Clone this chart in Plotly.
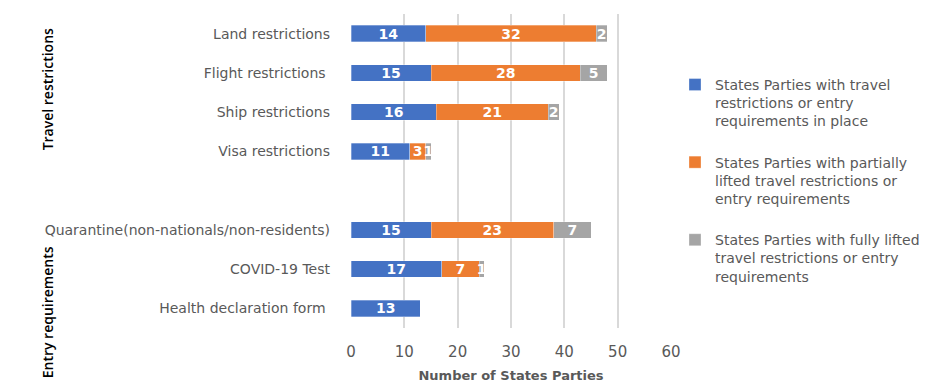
import plotly.graph_objects as go

categories = ["Land restrictions", "Flight restrictions ", "Ship restrictions", "Visa restrictions", " ",
              "Quarantine(non-nationals/non-residents)", "COVID-19 Test", "Health declaration form "]
in_place = [14, 15, 16, 11, None, 15, 17, 13]
partial = [32, 28, 21, 3, None, 23, 7, None]
fully = [2, 5, 2, 1, None, 7, 1, None]
series_names = [
    "States Parties with travel<br>restrictions or entry<br>requirements in place",
    "States Parties with partially<br>lifted travel restrictions or<br>entry requirements",
    "States Parties with fully lifted<br>travel restrictions or entry<br>requirements",
]
colors = ["#4472C4", "#ED7D31", "#A5A5A5"]
x_ticks = [0, 10, 20, 30, 40, 50, 60]

FONT = "DejaVu Sans"

fig = go.Figure()
for i, (vals, name, col) in enumerate(zip([in_place, partial, fully], series_names, colors)):
    fig.add_trace(go.Bar(
        y=categories, x=vals, orientation="h", name=name,
        marker=dict(color=col, line=dict(color="rgba(255,255,255,0.6)", width=0.5)),
        text=[("" if v is None else str(v)) for v in vals],
        textposition="inside", insidetextanchor="middle", textangle=0,
        textfont=dict(color="white", size=14, family=FONT, weight="bold"),
        legendgroup=f"g{i}",
        hoverinfo="skip",
    ))

fig.update_layout(
    barmode="stack",
    bargap=0.58,
    width=941, height=383,
    margin=dict(l=351, r=270, t=14, b=55),
    plot_bgcolor="white", paper_bgcolor="white",
    font=dict(family=FONT, color="#595959", size=14),
    uniformtext=dict(minsize=13, mode="show"),
    legend=dict(
        x=1.0125, y=0.825, xanchor="left", yanchor="top", valign="top",
        traceorder="grouped", tracegroupgap=20,
        font=dict(size=14, color="#595959", family=FONT),
        itemwidth=30,
    ),
    xaxis=dict(
        range=[0, 60], tickvals=x_ticks, showgrid=True, gridcolor="#D9D9D9", gridwidth=1.5,
        zeroline=False, showline=False, tickfont=dict(size=15, color="#595959"),
        title=dict(text="Number of States Parties", font=dict(size=13, color="#595959", weight="bold"), standoff=10),
        ticks="outside", ticklen=10, tickcolor="rgba(0,0,0,0)",
        automargin=False,
    ),
    yaxis=dict(
        categoryorder="array", categoryarray=categories[::-1], type="category",
        autorange=True, showgrid=False, showline=False, zeroline=False,
        tickfont=dict(size=14, color="#595959"), ticklabelstandoff=20,
        automargin=False,
    ),
    annotations=[
        dict(text="Travel restrictions", xref="paper", yref="paper", x=-0.95, y=0.76,
             xanchor="center", yanchor="middle",
             textangle=-90, showarrow=False, font=dict(size=14, color="black", family="Open Sans", weight=600)),
        dict(text="Entry requirements", xref="paper", yref="paper", x=-0.95, y=0.05,
             xanchor="center", yanchor="middle",
             textangle=-90, showarrow=False, font=dict(size=14, color="black", family="Open Sans", weight=600)),
    ],
)

fig.write_html("out.html")
